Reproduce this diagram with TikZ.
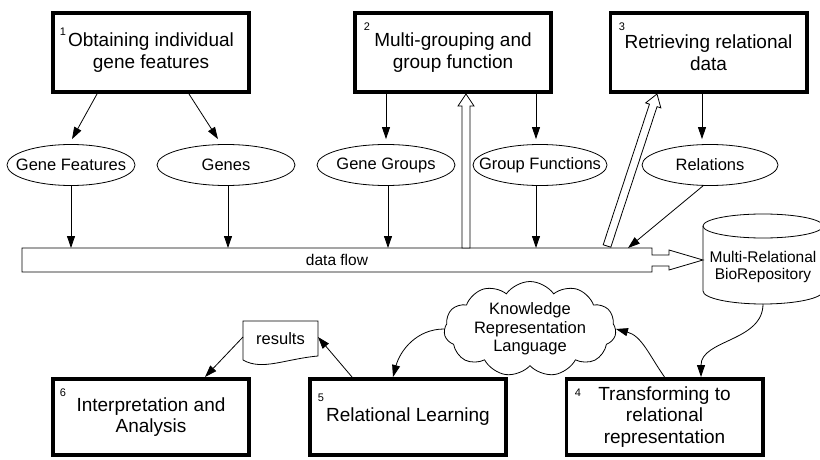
\documentclass[tikz,border=0pt]{standalone}
\usepackage{fontspec}
\setmainfont{Liberation Sans}
\usetikzlibrary{shapes.geometric,shapes.symbols,arrows.meta,calc}
\newcommand\hollowarr[2]{%
  \coordinate (hb) at ($(#2)!12pt!(#1)$);
  \draw[hollow] ($(#1)!4pt!90:(#2)$) -- ($(hb)!4pt!90:(#2)$) -- ($(hb)!8pt!90:(#2)$) -- (#2)
     -- ($(hb)!8pt!-90:(#2)$) -- ($(hb)!4pt!-90:(#2)$) -- ($(#1)!4pt!-90:(#2)$) -- cycle;}
\newcommand\zw[1]{\makebox[0pt]{#1}}
\begin{document}
\begin{tikzpicture}[x=1pt,y=1pt,
  box/.style={draw,line width=3.7pt,minimum width=196.3pt,align=center,font=\fontsize{19}{21.5}\selectfont,inner sep=0pt},
  topbox/.style={box,minimum height=79.3pt},
  botbox/.style={box,minimum height=76.3pt},
  num/.style={font=\fontsize{11}{12}\selectfont,inner sep=0pt},
  ell/.style={draw,ellipse,line width=0.8pt,minimum height=41pt,inner sep=0pt,font=\fontsize{16.5}{18}\selectfont},
  arr/.style={line width=0.8pt,-{Triangle[length=12pt,width=8pt]}},
  hollow/.style={draw,line width=0.8pt,fill=white,line join=miter},
  small/.style={font=\fontsize{15.5}{17}\selectfont,align=center,inner sep=0pt},
  thin/.style={line width=0.8pt}
]
\useasboundingbox (0,0) rectangle (820,459);
% top boxes
\node[topbox] (b1) at (151,406.5) {Obtaining individual\\gene features};
\node[topbox] (b2) at (453,406.5) {Multi-grouping and\\group function};
\node[topbox] (b3) at (708.5,406.5) {Retrieving relational\\data};
% bottom boxes
\node[botbox] (b4) at (664.5,42) {Transforming to\\relational\\representation};
\node[botbox] (b5) at (408,42) {Relational Learning};
\node[botbox] (b6) at (151,42) {Interpretation and\\Analysis};
% numbers
\node[num] (n1) at (63,427) {1};
\node[num] (n2) at (367,432) {2};
\node[num] (n3) at (622,432) {3};
\node[num] (n4) at (578,66) {4};
\node[num] (n5) at (321,61) {5};
\node[num] (n6) at (63,66) {6};
% ellipses
\node[ell,minimum width=128pt] (gfe) at (71,294) {\zw{Gene Features}};
\node[ell,minimum width=138pt] (gen) at (226,294) {\zw{Genes}};
\node[ell,minimum width=138pt] (ggr) at (386,294) {\zw{Gene Groups}};
\node[ell,minimum width=134pt] (gfn) at (540,294) {\zw{Group Functions}};
\node[ell,minimum width=136pt] (rel) at (710,294) {\zw{Relations}};
% data flow
\draw[thin,line join=miter] (22,211) -- (652,211) -- (652,204) -- (669,204) -- (669,209) -- (703,199)
  -- (669,189) -- (669,193) -- (652,193) -- (652,187) -- (22,187) -- cycle;
\node[small,minimum width=630pt,minimum height=24pt,outer sep=0pt] (flow) at (337,199) {\zw{data flow}};
% cylinder
\draw[thin] (703,233) -- (703,168) arc[start angle=180,end angle=360,x radius=60,y radius=13] -- (823,233);
\draw[thin] (763,233) ellipse[x radius=60,y radius=12];
\node[minimum width=120pt,minimum height=90pt,inner sep=0pt,outer sep=0pt] (cyl) at (763,200) {};
\node[small] (cyltext) at (763,192.5) {Multi-Relational\\BioRepository};
% cloud
\node[cloud,draw,thin,cloud puffs=11,cloud puff arc=110,aspect=2.2,minimum width=172pt,minimum height=78pt,
  inner sep=0pt,align=center,font=\fontsize{16.5}{18.5}\selectfont] (cloud) at (530,130)
  {Knowledge\\Representation\\Language};
% results document
\draw[thin] (243,99) -- (243,138) -- (318,138) -- (318,103) .. controls (285,100) and (262,88) .. (243,99);
\node[minimum width=75pt,minimum height=40pt,inner sep=0pt,outer sep=0pt,font=\fontsize{16.5}{18}\selectfont] (res) at (280.5,120) {results};
% arrows top
\draw[arr] ([xshift=-54pt]b1.south) -- ([xshift=1pt,yshift=5pt]gfe.north);
\draw[arr] ([xshift=38pt]b1.south) -- ([xshift=-8pt,yshift=5pt]gen.north);
\draw[arr] ([xshift=-67pt]b2.south) -- ([yshift=5pt]ggr.north);
\draw[arr] ([xshift=83pt]b2.south) -- ([xshift=-4pt,yshift=5pt]gfn.north);
\draw[arr] ([xshift=-6.5pt]b3.south) -- ([xshift=-8pt,yshift=5pt]rel.north);
% ellipses to flow
\draw[arr] (gfe.south) -- (gfe.south |- flow.north);
\coordinate (g2) at ([xshift=2pt]gen.south);
\draw[arr] (g2) -- (g2 |- flow.north);
\coordinate (g3) at ([xshift=2pt]ggr.south);
\draw[arr] (g3) -- (g3 |- flow.north);
\coordinate (g4) at ([xshift=-4pt]gfn.south);
\draw[arr] (g4) -- (g4 |- flow.north);
\draw[arr] ([xshift=-7pt]rel.south) -- ([xshift=-24pt]flow.north east);
% hollow arrows
\coordinate (u1t) at ([xshift=13pt]b2.south);
\coordinate (u1s) at (u1t |- flow.north);
\hollowarr{u1s}{u1t}
\coordinate (u2t) at ([xshift=-51.5pt]b3.south);
\coordinate (u2s) at (607,213);
\hollowarr{u2s}{u2t}
% lower connectors
\draw[arr] (cyl.south) to[out=-90,in=90] ([xshift=36.5pt]b4.north);
\draw[arr] (b4.north) to[out=125,in=-15] (cloud.east);
\draw[arr] (cloud.west) to[out=180,in=75] ([xshift=-15pt]b5.north);
\draw[arr] ([xshift=-56pt]b5.north) -- ([yshift=2pt]res.east);
\draw[arr] ([yshift=2pt]res.west) -- ([xshift=54pt]b6.north);
\end{tikzpicture}
\end{document}
